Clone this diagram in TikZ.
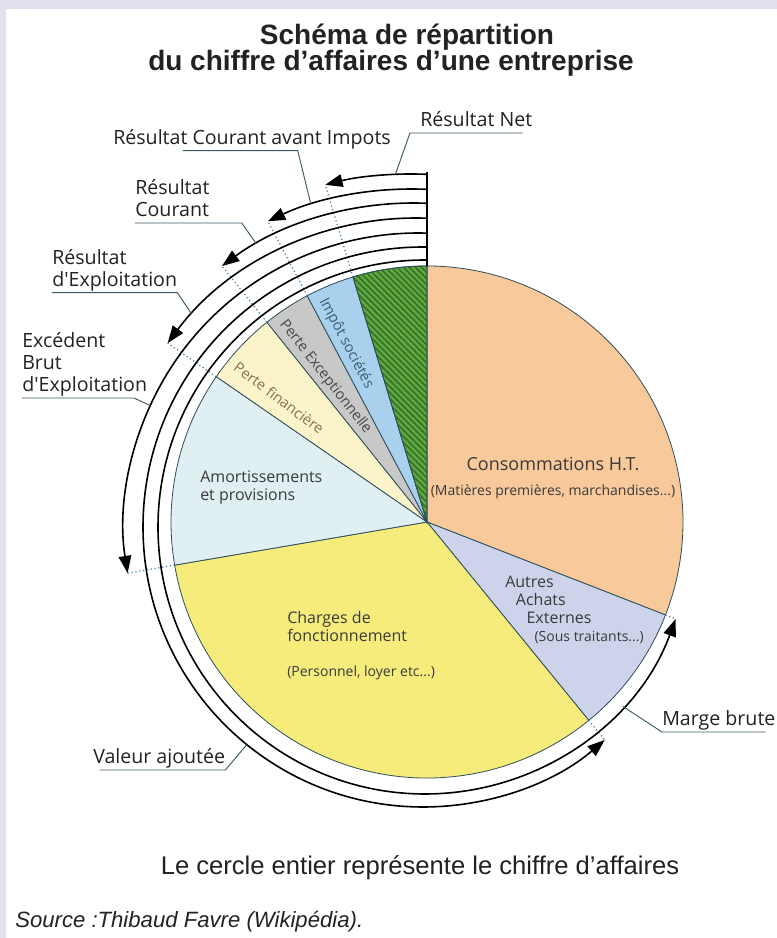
\documentclass[tikz,border=0pt]{standalone}
\usepackage{fontspec}
\usetikzlibrary{arrows.meta,patterns.meta}
\newfontfamily\labelfont{Open Sans}
\newfontfamily\titlefont{Liberation Sans}

\definecolor{frameC}{HTML}{E4DFEE}
\definecolor{edgeC}{HTML}{2E4F5A}
\definecolor{leadC}{HTML}{3C5A66}
\definecolor{dotC}{HTML}{3F7FB0}
\definecolor{txtC}{HTML}{222222}
\definecolor{inC}{HTML}{3A3A3A}
\definecolor{consC}{HTML}{F7C99B}
\definecolor{autresC}{HTML}{CDD3EA}
\definecolor{chargesC}{HTML}{F5EC7C}
\definecolor{amortC}{HTML}{E0EFF1}
\definecolor{pfinC}{HTML}{FBF4CB}
\definecolor{pexcC}{HTML}{C8C8C8}
\definecolor{impotC}{HTML}{A9D0EC}
\definecolor{netC}{HTML}{62A83E}
\definecolor{netH}{HTML}{33712A}
\definecolor{pfinT}{HTML}{8A7447}
\definecolor{pexcT}{HTML}{484848}
\definecolor{impotT}{HTML}{35607F}

\tikzset{
  slice/.style={draw=edgeC, line width=0.6pt},
  flow/.style={line width=1.2pt, -{Triangle[length=13pt,width=9.5pt]}},
  lead/.style={leadC, line width=0.7pt},
  dotline/.style={dotC, dotted, line width=0.9pt},
  lbl/.style={font=\labelfont\fontsize{14.7}{16.5}\selectfont, text=txtC, align=left,
    anchor=south west, inner sep=0pt, text depth=4.5pt},
  inlbl/.style={font=\labelfont\fontsize{12}{13.5}\selectfont, text=inC, align=left,
    anchor=north west, inner sep=0pt},
  rotlbl/.style={font=\labelfont\fontsize{11}{13}\selectfont, inner sep=0pt},
  ttl/.style={font=\titlefont\bfseries\fontsize{21}{24}\selectfont, text=txtC,
    anchor=base, inner sep=0pt},
}

\begin{document}
\begin{tikzpicture}[x=0.75pt, y=0.75pt]
    \def\rp{256}
    \useasboundingbox (-427,-416) rectangle (350,522);
    \fill[frameC] (-427,-416) rectangle (350,522);
    \fill[white] (-421,-416) rectangle (350,513);

    % titre
    \node[ttl] (title1) at (-20,477) {Schéma de répartition};
    \node[ttl] (title2) at (-36,451) {du chiffre d’affaires d’une entreprise};

    % parts du camembert
    \foreach \n/\a/\b/\c in {cons/-21.3/90/consC, autres/-50.8/-21.3/autresC,
        charges/189.7/309.2/chargesC, amort/145.4/189.7/amortC,
        pfin/128.7/145.4/pfinC, pexc/117.9/128.7/pexcC,
        impot/106.8/117.9/impotC, net/90/106.8/netC} {
        \filldraw[slice, fill=\c] (0,0) -- (\a:\rp) coordinate (\n-edge)
            arc[start angle=\a, end angle=\b, radius=\rp] -- cycle;
    }
    \path[pattern={Lines[angle=-45,distance=3.2pt,line width=1.2pt]}, pattern color=netH]
        (0,0) -- (90:\rp) arc[start angle=90, end angle=106.8, radius=\rp] -- cycle;
    \draw[slice] (0,0) -- (90:\rp) arc[start angle=90, end angle=106.8, radius=\rp] -- cycle;

    \coordinate (topend) at (0,350);
    \draw[line width=0.8pt] (net-edge) -- (topend);

    % arcs des soldes : decalage du centre, rayon, angle final, depart du renvoi
    \foreach \n/\sx/\r/\e/\l in {mb/2/267/339.85/317.8, va/4/280/310.48/231,
        ebe/9/294/189.04/155.6, re/11/309/143.48/136.5, rc/13/324/126.35/119.1,
        rcai/15/338/115.25/107.4, rn/15/353/104.23/92.7} {
        \pgfmathsetmacro\s{acos(\sx/\r)}
        \coordinate (\n-lead) at ([shift={(-\sx,-5)}]\l:\r);
        \coordinate (\n-start) at ([shift={(-\sx,-5)}]\s:\r);
        \coordinate (\n-tip) at ([shift={(-\sx,-5)}]\e:\r);
    }
    \draw[dotline] (impot-edge) -- (rn-tip);
    \draw[dotline] (pexc-edge) -- (rcai-tip);
    \draw[dotline] (pfin-edge) -- (rc-tip);
    \draw[dotline] (amort-edge) -- (re-tip);
    \draw[dotline] (charges-edge) -- (ebe-tip);
    \draw[dotline] (autres-edge) -- (va-tip);
    \draw[dotline] (cons-edge) -- (mb-tip);

    \foreach \n/\sx/\r/\e in {mb/2/267/339.85, va/4/280/310.48, ebe/9/294/189.04,
        re/11/309/143.48, rc/13/324/126.35, rcai/15/338/115.25, rn/15/353/104.23} {
        \pgfmathsetmacro\s{acos(\sx/\r)}
        \draw[flow] (\n-start) arc[start angle=\s, end angle=\e, radius=\r];
    }

    % etiquettes des soldes
    \node[lbl] (rn) at (-7,389) {Résultat Net};
    \node[lbl] (rcai) at (-314,371.3) {Résultat Courant avant Impots};
    \node[lbl] (rc) at (-292,299) {Résultat\\Courant};
    \node[lbl] (re) at (-375,229.3) {Résultat\\d\textquotesingle Exploitation};
    \node[lbl] (ebe) at (-405,124) {Excédent\\Brut\\d\textquotesingle Exploitation};
    \node[lbl] (va) at (-334,-248) {Valeur ajoutée};
    \node[lbl] (mb) at (235,-210) {Marge brute};

    \draw[lead] ([xshift=-7.5pt]rn.south east) -- ([xshift=-7.5pt]rn.south west) -- (rn-lead);
    \draw[lead] ([xshift=52.5pt]rcai.south west) -- ([xshift=-70pt]rcai.south east) -- (rcai-lead);
    \draw[lead] (rc.south west) -- ([xshift=24pt]rc.south east) -- (rc-lead);
    \draw[lead] (re.south west) -- (re.south east) -- (re-lead);
    \draw[lead] (ebe.south west) -- ([xshift=-10pt]ebe.south east) -- (ebe-lead);
    \draw[lead] ([xshift=5pt]va.south west) -- (va.south east) -- (va-lead);
    \draw[lead] ([xshift=-7.5pt]mb.south east) -- (mb.south west) -- (mb-lead);

    % textes dans les parts
    \node[inlbl, anchor=north, align=center, font=\labelfont\fontsize{13.5}{17}\selectfont] (cons) at (126,65)
        {Consommations H.T.\\[2pt]{\fontsize{10.5}{12}\selectfont(Matières premières, marchandises...)}};
    \node[inlbl] (autres) at (78,-54)
        {Autres\\\hspace*{8pt}Achats\\\hspace*{16pt}Externes\\\hspace*{22pt}{\fontsize{10.5}{13}\selectfont(Sous traitants...)}};
    \node[inlbl] (charges) at (-140,-89)
        {Charges de\\fonctionnement\\[13pt]{\fontsize{10.5}{13}\selectfont(Personnel, loyer etc...)}};
    \node[inlbl] (amort) at (-227,52) {Amortissements\\et provisions};
    \node[rotlbl, text=impotT, rotate=-62] (impotL) at (114.4:196) {Impôt sociétés};
    \node[rotlbl, text=pexcT, rotate=-52] (pexcL) at (125:177) {Perte Exceptionnelle};
    \node[rotlbl, text=pfinT, rotate=-37] (pfinL) at (140:193) {Perte financière};

    % notes
    \node[font=\titlefont\fontsize{19.2}{22}\selectfont, text=txtC, anchor=base, inner sep=0pt]
        (note) at (-7,-352) {Le cercle entier représente le chiffre d’affaires};
    \node[font=\titlefont\itshape\fontsize{16.6}{19}\selectfont, text=txtC, anchor=base west, inner sep=0pt]
        (source) at (-412,-405) {Source :Thibaud Favre (Wikipédia).};
\end{tikzpicture}
\end{document}
